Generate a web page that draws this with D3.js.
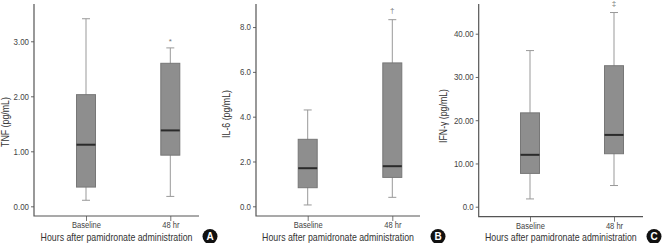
<!DOCTYPE html>
<html>
<head>
<meta charset="utf-8">
<script src="https://cdn.jsdelivr.net/npm/d3@7"></script>
<style>
  body { margin: 0; background: #fff; }
  svg { display: block; }
  text { font-family: 'Liberation Sans', Arial, sans-serif; fill: #333; }
</style>
</head>
<body>
<div id="chart-area"></div>
<script>
// data
var categories = ['Baseline', '48 hr'];
var tnf = [
  { min: 0.11, q1: 0.35, median: 1.12, q3: 2.03, max: 3.41 },
  { min: 0.18, q1: 0.93, median: 1.38, q3: 2.60, max: 2.88 }
];
var il6 = [
  { min: 0.06, q1: 0.83, median: 1.70, q3: 2.99, max: 4.30 },
  { min: 0.40, q1: 1.29, median: 1.79, q3: 6.40, max: 8.33 }
];
var ifn = [
  { min: 1.8, q1: 7.7, median: 12.0, q3: 21.7, max: 36.1 },
  { min: 4.9, q1: 12.25, median: 16.6, q3: 32.6, max: 44.9 }
];
var tnfTicks = [0, 1, 2, 3];
var il6Ticks = [0, 2, 4, 6, 8];
var ifnTicks = [0, 10, 20, 30, 40];
var tnfLabels = ['0.00', '1.00', '2.00', '3.00'];
var il6Labels = ['0.0', '2.0', '4.0', '6.0', '8.0'];
var ifnLabels = ['0.0', '10.00', '20.00', '30.00', '40.00'];
var yTitles = ['TNF (pg/mL)', 'IL-6 (pg/mL)', 'IFN-\u03b3 (pg/mL)'];
var marks = ['*', '\u2020', '\u2021'];
var panelLetters = ['A', 'B', 'C'];
var xTitle = 'Hours after pamidronate administration';

var panels = [
  { data: tnf, ticks: tnfTicks, labels: tnfLabels, domain: [-0.176, 3.678], left: 34, right: 199, bottom: 216, cats: [86, 170.3], yTitleX: 5, yTitleY: 122, yTitleW: 50, markY: 44, letterX: 210 },
  { data: il6, ticks: il6Ticks, labels: il6Labels, domain: [-0.433, 9.03], left: 256, right: 420, bottom: 216, cats: [307.7, 392.3], yTitleX: 226, yTitleY: 114, yTitleW: 48, markY: 13, letterX: 438 },
  { data: ifn, ticks: ifnTicks, labels: ifnLabels, domain: [-2.31, 46.87], left: 478.7, right: 643, bottom: 216.7, cats: [530, 614], yTitleX: 443, yTitleY: 116, yTitleW: 54, markY: 6, letterX: 654 }
];

var svg = d3.select('#chart-area')
  .append('svg')
    .attr('width', 662)
    .attr('height', 243);

var boxWidth = 19,
  capWidth = 8;

// the original uses a condensed face, so squeeze text horizontally
var condense = (sel, s) => {
  sel.each(function() {
    var t = d3.select(this);
    var x = +t.attr('x') || 0, y = +t.attr('y') || 0;
    t.attr('x', 0).attr('y', 0)
      .attr('transform', 'translate(' + x + ', ' + y + ') scale(' + s + ', 1)');
  });
};

var fitWidth = (sel, w) => {
  var natural = sel.node().getComputedTextLength();
  condense(sel, w / natural);
};

panels.forEach((p, i) => {
  var g = svg.append('g');

  var yScale = d3.scaleLinear()
    .domain(p.domain)
    .range([p.bottom, 4]);

  var xScale = d3.scalePoint()
    .domain(categories)
    .range(p.cats);

  // axes
  var yAxisCall = d3.axisLeft(yScale)
    .tickValues(p.ticks)
    .tickSize(3)
    .tickPadding(2)
    .tickFormat((d, j) => p.labels[j]);
  var yAxisGroup = g.append('g')
    .attr('transform', 'translate(' + p.left + ', 0)')
    .call(yAxisCall);
  yAxisGroup.select('.domain').remove();
  yAxisGroup.selectAll('line').attr('stroke', '#666');
  yAxisGroup.selectAll('text')
    .attr('font-size', '9px')
    .attr('font-family', 'Liberation Sans, Arial, sans-serif')
    .style('fill', '#444');
  condense(yAxisGroup.selectAll('text'), 0.88);

  var xAxisCall = d3.axisBottom(xScale)
    .tickSize(5)
    .tickPadding(1);
  var xAxisGroup = g.append('g')
    .attr('transform', 'translate(0, ' + p.bottom + ')')
    .call(xAxisCall);
  xAxisGroup.select('.domain').remove();
  xAxisGroup.selectAll('line').attr('stroke', '#777');
  xAxisGroup.selectAll('text')
    .attr('font-size', '9px')
    .attr('font-family', 'Liberation Sans, Arial, sans-serif')
    .style('fill', '#444');
  condense(xAxisGroup.selectAll('text'), 0.84);

  g.append('path')
    .attr('d', 'M' + p.left + ',4V' + p.bottom + 'H' + p.right)
    .attr('fill', 'none')
    .attr('stroke', '#555')
    .attr('stroke-width', 1.2);

  // boxes
  var boxes = g.selectAll('.box')
    .data(p.data)
    .enter()
    .append('g')
      .attr('class', 'box')
      .attr('transform', (d, j) => 'translate(' + xScale(categories[j]) + ', 0)');

  boxes.append('line')
    .attr('x1', 0).attr('x2', 0)
    .attr('y1', d => yScale(d.max))
    .attr('y2', d => yScale(d.min))
    .attr('stroke', '#999');

  boxes.selectAll('.cap')
    .data(d => [d.min, d.max])
    .enter()
    .append('line')
      .attr('x1', -capWidth / 2).attr('x2', capWidth / 2)
      .attr('y1', v => yScale(v))
      .attr('y2', v => yScale(v))
      .attr('stroke', '#999');

  boxes.append('rect')
    .attr('x', -boxWidth / 2)
    .attr('width', boxWidth)
    .attr('y', d => yScale(d.q3))
    .attr('height', d => yScale(d.q1) - yScale(d.q3))
    .attr('fill', '#8e8e8e')
    .attr('stroke', '#777');

  boxes.append('line')
    .attr('x1', -boxWidth / 2).attr('x2', boxWidth / 2)
    .attr('y1', d => yScale(d.median))
    .attr('y2', d => yScale(d.median))
    .attr('stroke', '#2a2a2a')
    .attr('stroke-width', 2);

  // significance mark over 48 hr
  g.append('text')
    .attr('x', xScale(categories[1]))
    .attr('y', p.markY)
    .attr('text-anchor', 'middle')
    .attr('font-size', '8px')
    .style('fill', '#777')
    .text(marks[i]);

  // titles
  var yTitle = g.append('text')
    .attr('text-anchor', 'middle')
    .attr('font-size', '10px')
    .text(yTitles[i]);
  var yw = yTitle.node().getComputedTextLength();
  yTitle.attr('transform', 'translate(' + p.yTitleX + ', ' + p.yTitleY + ') rotate(-90) scale(' + (p.yTitleW / yw) + ', 1)')
    .attr('dy', '0.35em');

  var xt = g.append('text')
    .attr('x', (p.left + p.right) / 2)
    .attr('y', 240.5)
    .attr('text-anchor', 'middle')
    .attr('font-size', '10.5px')
    .text(xTitle);
  fitWidth(xt, 152);

  g.append('circle')
    .attr('cx', p.letterX)
    .attr('cy', 236.5)
    .attr('r', 7.5)
    .attr('fill', '#111');

  g.append('text')
    .attr('x', p.letterX)
    .attr('y', 236.5)
    .attr('dy', '0.36em')
    .attr('text-anchor', 'middle')
    .attr('font-size', '10px')
    .attr('font-weight', 'bold')
    .style('fill', '#fff')
    .text(panelLetters[i]);
});
</script>
</body>
</html>
